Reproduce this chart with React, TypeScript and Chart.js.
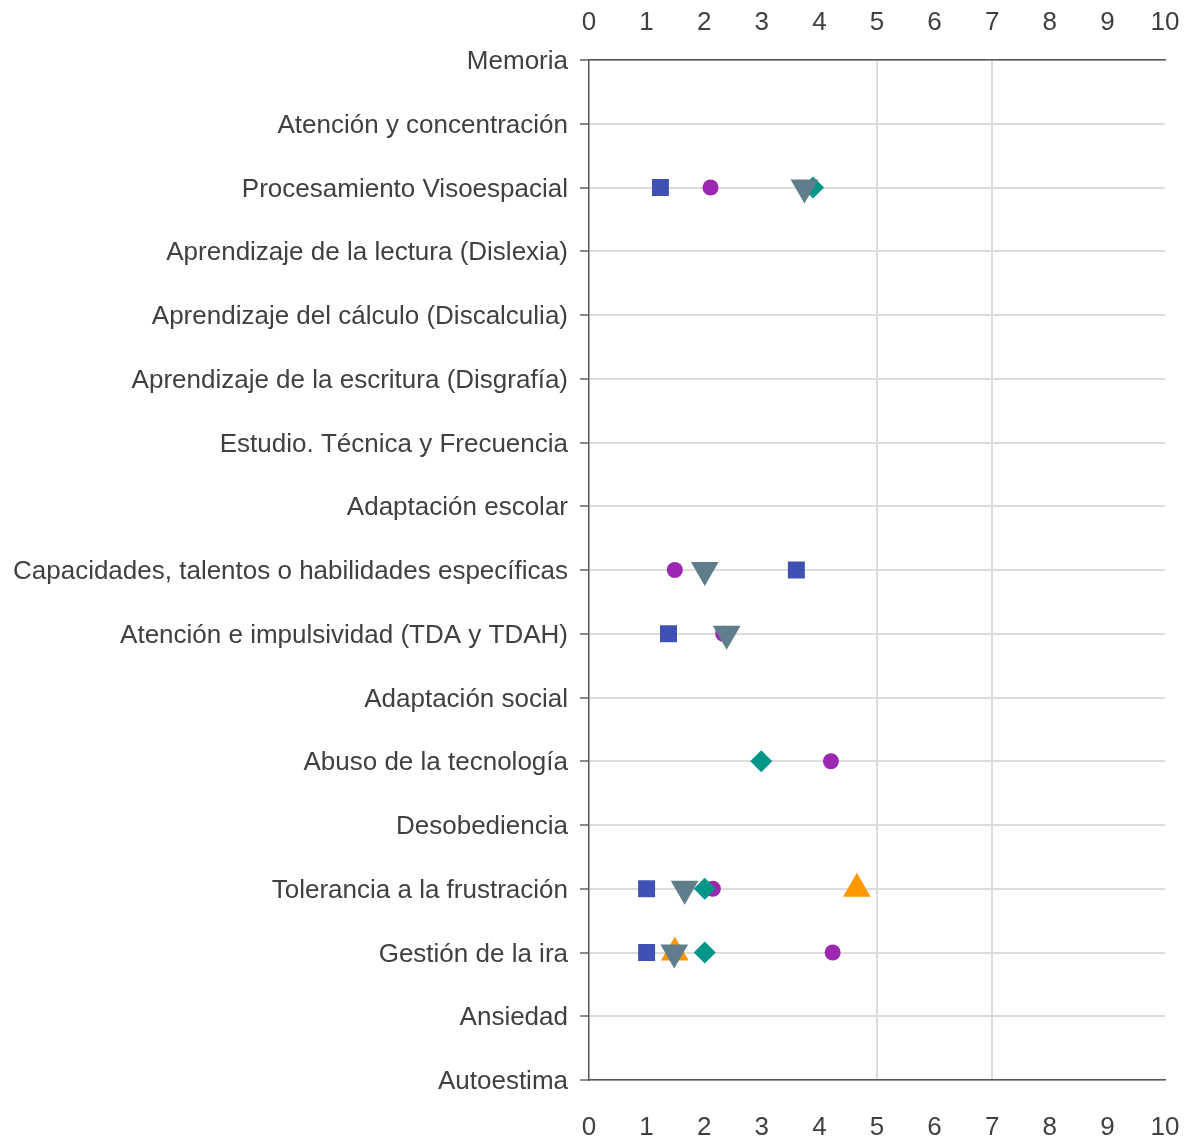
import React, { useEffect, useRef } from "react";
import { Chart, registerables } from "chart.js";

Chart.register(...registerables);

const categories = [
  "Memoria",
  "Atención y concentración",
  "Procesamiento Visoespacial",
  "Aprendizaje de la lectura (Dislexia)",
  "Aprendizaje del cálculo (Discalculia)",
  "Aprendizaje de la escritura (Disgrafía)",
  "Estudio. Técnica y Frecuencia",
  "Adaptación escolar",
  "Capacidades, talentos o habilidades específicas",
  "Atención e impulsividad (TDA y TDAH)",
  "Adaptación social",
  "Abuso de la tecnología",
  "Desobediencia",
  "Tolerancia a la frustración",
  "Gestión de la ira",
  "Ansiedad",
  "Autoestima",
];

const xTicks = [0, 1, 2, 3, 4, 5, 6, 7, 8, 9, 10];

const squareValues = [null, null, 1.24, null, null, null, null, null, 3.6, 1.38, null, null, null, 1.0, 1.0, null, null];
const circleValues = [null, null, 2.11, null, null, null, null, null, 1.49, 2.33, null, 4.2, null, 2.15, 4.23, null, null];
const triangleDownValues = [null, null, 3.74, null, null, null, null, null, 2.01, 2.39, null, null, null, 1.66, 1.48, null, null];
const diamondValues = [null, null, 3.89, null, null, null, null, null, null, null, null, 2.99, null, 2.01, 2.01, null, null];
const triangleUpValues = [null, null, null, null, null, null, null, null, null, null, null, null, null, 4.65, 1.49, null, null];

const toPoints = (vals: (number | null)[]) =>
  vals
    .map((v, i) => (v === null ? null : { x: v, y: categories[i] }))
    .filter((p) => p !== null) as { x: number; y: string }[];

const FONT = { family: "'Liberation Sans', Arial, sans-serif", size: 26 };
const TEXT = "#404040";

export default function App() {
  const ref = useRef<HTMLCanvasElement | null>(null);

  useEffect(() => {
    if (!ref.current) return;
    const chart = new Chart(ref.current, {
      type: "scatter",
      data: {
        datasets: [
          {
            label: "triangleDown",
            data: toPoints(triangleDownValues),
            pointStyle: "triangle",
            rotation: 180,
            pointRadius: 16,
            backgroundColor: "#607D8B",
            borderWidth: 0,
          },
          {
            label: "triangleUp",
            data: toPoints(triangleUpValues),
            pointStyle: "triangle",
            pointRadius: 16,
            backgroundColor: "#FF9800",
            borderWidth: 0,
          },
          {
            label: "diamond",
            data: toPoints(diamondValues),
            pointStyle: "rectRot",
            pointRadius: 11,
            backgroundColor: "#009688",
            borderWidth: 0,
          },
          {
            label: "circle",
            data: toPoints(circleValues),
            pointStyle: "circle",
            pointRadius: 8,
            backgroundColor: "#9C27B0",
            borderWidth: 0,
          },
          {
            label: "square",
            data: toPoints(squareValues),
            pointStyle: "rect",
            pointRadius: 12,
            backgroundColor: "#3F51B5",
            borderWidth: 0,
          },
        ] as any,
      },
      options: {
        animation: false,
        responsive: true,
        maintainAspectRatio: false,
        events: [],
        layout: { padding: 0 },
        plugins: {
          legend: { display: false },
          tooltip: { enabled: false },
        },
        scales: {
          y: {
            type: "category",
            labels: categories,
            offset: false,
            position: "left",
            grid: {
              color: "#dcdcdc",
              lineWidth: 2,
              tickLength: 9,
              tickColor: "#8a8a8a",
              tickWidth: 2,
            },
            border: { display: true, color: "#555555", width: 1.5 },
            ticks: { font: FONT, color: TEXT, padding: 12, autoSkip: false, labelOffset: 2 },
            afterFit: (s: any) => {
              s.width = 589;
              s.paddingTop = 0;
              s.paddingBottom = 0;
            },
          },
          x: {
            type: "linear",
            position: "bottom",
            min: 0,
            max: 10,
            afterBuildTicks: (s: any) => {
              s.ticks = xTicks.map((v) => ({ value: v }));
            },
            grid: {
              drawTicks: false,
              lineWidth: 2,
              color: (ctx: any) =>
                ctx.tick && (ctx.tick.value === 5 || ctx.tick.value === 7) ? "#dcdcdc" : "rgba(0,0,0,0)",
            },
            border: { display: true, color: "#555555", width: 1.5 },
            ticks: { font: FONT, color: TEXT, padding: 32, maxRotation: 0 },
            afterFit: (s: any) => {
              s.height = 60;
              s.paddingLeft = 0;
              s.paddingRight = 20;
            },
          },
          x2: {
            type: "linear",
            position: "top",
            min: 0,
            max: 10,
            afterBuildTicks: (s: any) => {
              s.ticks = xTicks.map((v) => ({ value: v }));
            },
            grid: { drawTicks: false, drawOnChartArea: false },
            border: { display: true, color: "#555555", width: 1.5 },
            ticks: { font: FONT, color: TEXT, padding: 22, maxRotation: 0 },
            afterFit: (s: any) => {
              s.height = 60;
              s.paddingLeft = 0;
              s.paddingRight = 20;
            },
          },
        },
      } as any,
    });
    return () => chart.destroy();
  }, []);

  return (
    <div style={{ position: "absolute", left: 0, top: 0, width: 1185, height: 1140 }}>
      <canvas ref={ref} />
    </div>
  );
}
